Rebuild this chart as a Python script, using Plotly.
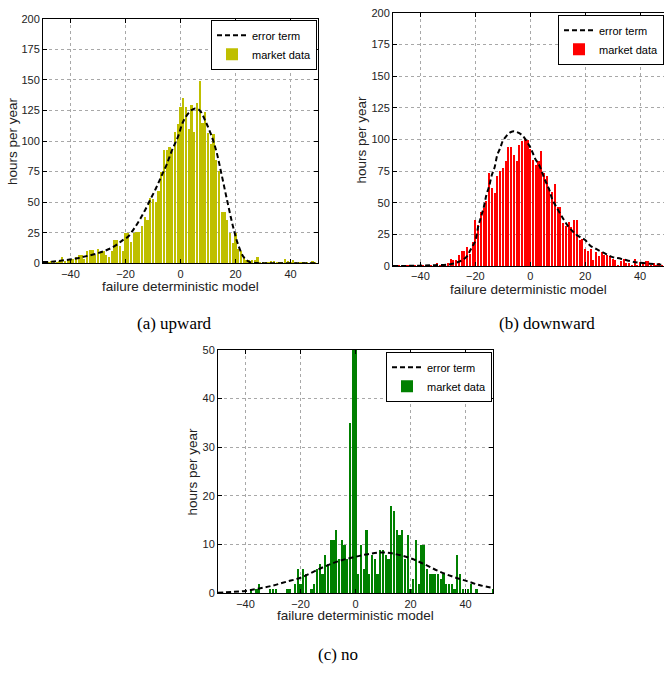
import plotly.graph_objects as go

# ---------------- data ----------------
bins = list(range(-50, 51))

upward_hours = [
    0, 1, 1, 2, 1, 1, 2, 5, 2, 3,          # -50..-41
    3, 4, 5, 7, 7, 4, 10, 11, 11, 7,       # -40..-31
    12, 9, 10, 7, 5, 10, 19, 19, 14, 10,   # -30..-21
    25, 25, 18, 25, 26, 26, 31, 38, 36, 54,  # -20..-11
    53, 50, 59, 75, 93, 93, 95, 92, 108, 114,  # -10..-1
    128,                                   # 0
    135, 128, 110, 130, 108, 131, 149, 115, 124, 107,  # 1..10
    98, 106, 85, 76, 42, 42, 36, 25, 17, 25,   # 11..20
    12, 10, 5, 3, 3, 3, 3, 5, 1, 1,        # 21..30
    0.5, 1, 2, 2, 1, 1, 1, 4, 2, 1,        # 31..40
    3, 1, 1, 1, 0.5, 1.5, 0, 2, 0.5, 0,    # 41..50
]

downward_hours = [
    0, 0.5, 0.5, 0.3, 1, 1.5, 0.5, 0.5, 1, 1,   # -50..-41
    1, 1, 0.5, 1, 1, 1, 3, 1, 2, 2,             # -40..-31
    2.5, 6, 5, 5, 9, 12, 12, 15, 10, 19,        # -30..-21
    37, 33, 43, 46, 52, 74, 62, 58, 71, 75,     # -20..-11
    78, 83, 94, 94, 88, 83, 96, 99, 101, 100,   # -10..-1
    93,                                         # 0
    84, 80, 83, 91, 74, 71, 62, 59, 65, 47,     # 1..10
    47, 34, 32, 35, 31, 37, 37, 21, 22, 14,     # 11..20
    12, 14, 5, 11, 8, 11, 9, 9, 8, 6,           # 21..30
    5, 1.3, 4, 6, 2.6, 3, 1, 5.7, 1.5, 3.6,     # 31..40
    2.6, 4.4, 4.4, 1.5, 2.6, 1, 2.6, 1.3, 1, 0, # 41..50
]

no_hours = [
    0, 0, 0, 0, 0, 0, 0, 0, 0, 0,        # -50..-41
    0, 0, 1, 0, 1, 2, 0, 0, 0, 1,        # -40..-31
    1, 1, 0, 0, 0, 1, 1, 0, 2, 5,        # -30..-21
    2, 5, 4, 0, 1, 2, 5, 6, 4, 8,        # -20..-11
    6, 11, 11, 13, 7, 11, 10, 7, 35, 64, # -10..-1
    58,                                  # 0
    4, 10, 5, 13, 4, 8, 7, 4, 9, 9,      # 1..10
    8, 7, 18, 17, 13, 12, 13, 7, 12, 1,  # 11..20
    3, 11, 2, 10, 10, 5, 4, 4, 4, 4,     # 21..30
    3, 4, 2, 2, 2, 1, 8, 4, 1, 0,        # 31..40
    1, 2, 0, 1, 0, 0, 0, 0, 0, 1,        # 41..50
]

# error-term curves
upward_err_x = [-50, -46, -42, -38, -34, -30, -27, -24, -21, -19, -17, -15, -13, -11, -9, -7,
                -5, -3, -1, 1, 3, 5, 7, 9, 11, 13, 15, 17, 19, 21, 23, 25, 28, 35, 50]
upward_err_y = [1, 1.5, 2.6, 4, 6, 8.3, 10.7, 14, 19, 22, 28, 35, 43, 52, 61, 71,
                81, 93, 103, 116, 123, 126.5, 125, 116.5, 106, 92, 72, 51, 31, 15, 5, 1.2, 0.2, 0, 0]

downward_err_x = [-50, -40, -35, -30, -27, -25, -23, -22, -21, -20, -19, -18, -17, -16, -15, -14,
                  -13, -12, -11, -10, -9, -8, -7, -6, -5, -4, -3, -2, -1, 0, 1, 2, 3, 4, 5, 6,
                  7, 8, 10, 12, 14, 17, 20, 22, 24, 27, 30, 33, 37, 40, 47, 50]
downward_err_y = [0.2, 0.5, 0.9, 1.3, 2.8, 4.5, 8, 12, 16, 20, 31, 38.5, 46, 56, 63, 72,
                  78, 88, 93, 99, 102, 104.5, 106, 106.5, 106, 105, 103.5, 101, 97.5, 94, 89, 84, 81, 76, 70, 65,
                  60, 53, 45, 37.5, 31, 24.6, 20.7, 16, 13.7, 10.3, 7.2, 6, 3.8, 2.8, 1.4, 1]

no_err_x = [-50, -45, -40, -35, -30, -25, -20, -15, -10, -5, 0, 5, 10, 15, 20, 25, 30, 35, 40, 45, 50]
no_err_y = [0.1, 0.3, 0.5, 1.0, 1.6, 2.4, 3.2, 4.5, 5.8, 6.8, 7.5, 8.1, 8.4, 8.0, 7.2, 6.0, 4.6, 3.5, 2.6, 1.7, 1.1]

y_ticks_ab = [0, 25, 50, 75, 100, 125, 150, 175, 200]
y_ticks_c = [0, 10, 20, 30, 40, 50]
x_ticks = [-40, -20, 0, 20, 40]

captions = ["(a) upward", "(b) downward", "(c) no"]
x_title = "failure deterministic model"
y_title = "hours per year"

# ---------------- figure ----------------
W, H = 664, 673
SANS = "Liberation Sans, Arial, Helvetica, sans-serif"
SERIF = "Liberation Serif, Times New Roman, serif"

fig = go.Figure()

panels = [
    dict(sfx="", leg="legend", hours=upward_hours, ex=upward_err_x, ey=upward_err_y, color="#bfbf00"),
    dict(sfx="2", leg="legend2", hours=downward_hours, ex=downward_err_x, ey=downward_err_y, color="#ff0000"),
    dict(sfx="3", leg="legend3", hours=no_hours, ex=no_err_x, ey=no_err_y, color="#008000"),
]

for p in panels:
    fig.add_trace(go.Scatter(
        x=p["ex"], y=p["ey"], mode="lines", name="error term",
        line=dict(color="black", width=2, dash="5px,3px", shape="spline"),
        xaxis="x" + p["sfx"], yaxis="y" + p["sfx"], legend=p["leg"],
    ))
    fig.add_trace(go.Bar(
        x=bins, y=p["hours"], width=0.75, name="market data",
        marker=dict(color=p["color"], line=dict(width=0)),
        xaxis="x" + p["sfx"], yaxis="y" + p["sfx"], legend=p["leg"],
    ))


def px_x(v):
    return v / W


def px_y(v):
    return 1 - v / H


def xaxis(domain, rng, mirror, anchor):
    return dict(domain=domain, range=rng, anchor=anchor, tickvals=x_ticks,
                showline=True, linecolor="black", linewidth=1, mirror=mirror,
                ticks="inside", ticklen=4, tickcolor="black",
                showgrid=True, gridcolor="#a8a8a8", griddash="dot", gridwidth=1,
                zeroline=False, tickfont=dict(family=SANS, size=11, color="#222"))


def yaxis(domain, rng, ticks, mirror, anchor):
    return dict(domain=domain, range=rng, anchor=anchor, tickvals=ticks,
                showline=True, linecolor="black", linewidth=1, mirror=mirror,
                ticks="inside", ticklen=4, tickcolor="black",
                showgrid=True, gridcolor="#a8a8a8", griddash="dot", gridwidth=1,
                zeroline=False, tickfont=dict(family=SANS, size=11, color="#222"))


# panel pixel boxes
a_box = (43, 318, 13, 262)
b_box = (393, 664, 7, 265)
c_box = (218, 493, 350, 598)

fig.update_layout(
    xaxis=xaxis([px_x(a_box[0]), px_x(a_box[1])], [-50, 50], "ticks", "y"),
    yaxis=yaxis([px_y(a_box[3]), px_y(a_box[2])], [0, 200], y_ticks_ab, "ticks", "x"),
    xaxis2=xaxis([px_x(b_box[0]), 1.0], [-50, -50 + (664 - 393) / 2.745], "ticks", "y2"),
    yaxis2=yaxis([px_y(b_box[3]), px_y(b_box[2])], [0, 200], y_ticks_ab, False, "x2"),
    xaxis3=xaxis([px_x(c_box[0]), px_x(c_box[1])], [-50, 50], "ticks", "y3"),
    yaxis3=yaxis([px_y(c_box[3]), px_y(c_box[2])], [0, 50], y_ticks_c, "ticks", "x3"),
)

leg_common = dict(bgcolor="white", bordercolor="black", borderwidth=1,
                  font=dict(family=SANS, size=11, color="black"),
                  itemwidth=30, tracegroupgap=0, xanchor="right", yanchor="top")
fig.update_layout(
    legend=dict(x=px_x(317), y=px_y(14), **leg_common),
    legend2=dict(x=1.0, y=px_y(9), **leg_common),
    legend3=dict(x=px_x(492), y=px_y(352), **leg_common),
)

annotations = []
# x-axis titles
for (cx, cy) in [(180.5, 285.5), (528.5, 288.5), (355, 621)]:
    annotations.append(dict(text=x_title, x=px_x(cx), y=px_y(cy), xref="paper", yref="paper",
                            showarrow=False, xanchor="center", yanchor="middle",
                            font=dict(family=SANS, size=13.5, color="#222")))
# y-axis titles
for (cx, cy) in [(12, 137.5), (362, 136), (193, 474)]:
    annotations.append(dict(text=y_title, x=px_x(cx), y=px_y(cy), xref="paper", yref="paper",
                            showarrow=False, xanchor="center", yanchor="middle", textangle=-90,
                            font=dict(family=SANS, size=13.5, color="#222")))
# captions
for text, (cx, cy) in zip(captions, [(174, 323), (547, 323), (338, 660)]):
    annotations.append(dict(text=text, x=px_x(cx), y=px_y(cy), xref="paper", yref="paper",
                            showarrow=False, xanchor="center", yanchor="middle",
                            font=dict(family=SERIF, size=17, color="black")))

fig.update_layout(
    width=W, height=H, autosize=False,
    margin=dict(l=0, r=0, t=0, b=0, pad=0),
    paper_bgcolor="white", plot_bgcolor="white",
    barmode="overlay", bargap=0,
    annotations=annotations,
    showlegend=True,
)

fig.write_html("out.html")
